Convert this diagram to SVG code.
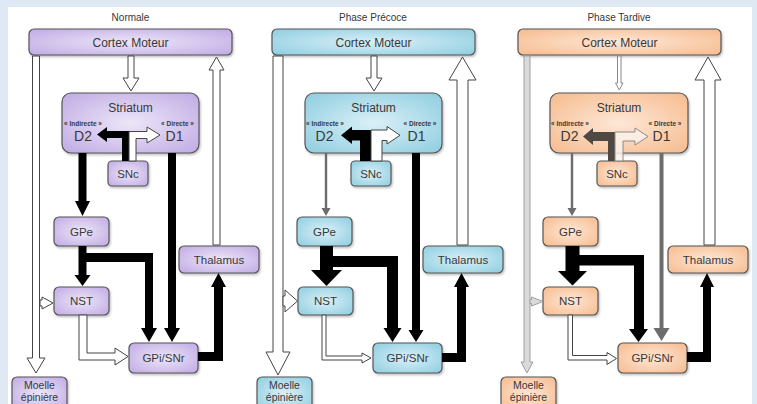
<svg xmlns="http://www.w3.org/2000/svg" width="757" height="404" viewBox="0 0 757 404">
<defs>
<radialGradient id="gp" cx="50%" cy="50%" r="70%"><stop offset="0" stop-color="#ece6f8"/><stop offset="1" stop-color="#c0aae4"/></radialGradient>
<radialGradient id="gb" cx="50%" cy="50%" r="70%"><stop offset="0" stop-color="#daf0f7"/><stop offset="1" stop-color="#8ecde0"/></radialGradient>
<radialGradient id="go" cx="50%" cy="50%" r="70%"><stop offset="0" stop-color="#fee7d6"/><stop offset="1" stop-color="#f6bb8e"/></radialGradient>
<filter id="sh" x="-10%" y="-10%" width="130%" height="150%"><feDropShadow dx="1" dy="1.5" stdDeviation="1" flood-color="#000" flood-opacity="0.28"/></filter>
</defs>
<style>
.box{stroke:#555;stroke-width:1.2;filter:url(#sh)}
.p .box{fill:url(#gp)}
.b .box{fill:url(#gb)}
.o .box{fill:url(#go)}
text{font-family:"Liberation Sans",Arial,sans-serif;fill:#383838;text-anchor:middle}
.ttl{font-size:10px}
.lg{font-size:12px}
.sm{font-size:11.5px}
.d{font-size:14px}
.pw{font-size:6.5px;font-weight:bold}
.mo{font-size:10.5px}
.blk{fill:#000}
.wht{fill:#fff;stroke:#444;stroke-width:1}
.gry{fill:#6c6c6c}
.lgt{fill:#dadada;stroke:#a0a0a0;stroke-width:1}
.tn{fill:#fff;stroke:#888;stroke-width:1}
.dk{fill:#4f4843}
.lt{fill:#fbf1ea;fill-opacity:0.85;stroke:#8a8a8a;stroke-width:1}
</style>
<rect x="0" y="0" width="757" height="404" fill="#dfe9f4"/>
<rect x="8" y="7" width="744" height="397" fill="#fff"/>

<!-- Panel 1: Normale -->
<g id="panel-normale" class="p">
<text class="ttl" x="130.5" y="21">Normale</text>
<g id="cortex-normale"><rect class="box" x="29" y="29" width="203" height="26" rx="5"/><text class="lg" x="130.5" y="47">Cortex Moteur</text></g>
<g id="striatum-normale"><rect class="box" x="62" y="93" width="137" height="60" rx="9"/><text class="lg" x="130.5" y="112">Striatum</text><text class="pw" x="83" y="126">« Indirecte »</text><text class="pw" x="177.5" y="126">« Directe »</text><text class="d" x="83" y="140.5">D2</text><text class="d" x="174.5" y="140.5">D1</text></g>
<g id="snc-normale"><rect class="box" x="108" y="161" width="40" height="25" rx="4"/><text class="sm" x="128" y="177.5">SNc</text></g>
<g id="gpe-normale"><rect class="box" x="54" y="217" width="55" height="29" rx="5"/><text class="sm" x="81.5" y="236">GPe</text></g>
<g id="nst-normale"><rect class="box" x="54" y="287" width="55" height="28" rx="5"/><text class="sm" x="81.5" y="305">NST</text></g>
<g id="gpi-normale"><rect class="box" x="129" y="343" width="69" height="30" rx="5"/><text class="sm" x="163.5" y="362">GPi/SNr</text></g>
<g id="thalamus-normale"><rect class="box" x="179" y="246" width="80" height="27" rx="5"/><text class="sm" x="219" y="263.5">Thalamus</text></g>
<g id="moelle-normale"><rect class="box" x="12" y="377" width="55" height="34" rx="5"/><text class="mo" x="39.5" y="389">Moelle</text><text class="mo" x="39.5" y="401">épinière</text></g>
<g id="connectors-normale">
<path class="wht" d="M128,56 H134 V78 H139 L131,91 L123,78 H128 Z"/>
<path class="wht" d="M32.5,56 H39.5 V358 H45 L36,373 L27,358 H32.5 Z"/>
<path class="wht" d="M213,245 V70 H209 L216.5,57 L224,70 H220 V245 Z"/>
<path class="blk" d="M78.5,153 H86.5 V201 H90 L82.5,216 L75,201 H78.5 Z"/>
<path class="blk" d="M168,153 H176 V328 H180 L172,342 L164,328 H168 Z"/>
<path class="blk" d="M78.5,246 H86.5 V275 H90.5 L82.5,286 L74.5,275 H78.5 Z"/>
<path class="blk" d="M80,253 H153 V328 H157 L149,342 L141,328 H145 V262 H80 Z"/>
<path class="wht" d="M79,315 H87 V353 H115 V348 L128,356.5 L115,365 V360 H79 Z"/>
<path class="wht" d="M40,300 H42 V297 L53,303 L42,309 V306 H40 Z"/>
<path class="blk" d="M198,352 H214 V287 H211 L218.5,273 L226,287 H223 V361 H198 Z"/>
<path class="blk" d="M129,161 V131 H107 V127 L97,134.5 L107,142 V138 H122 V161 Z"/>
<path class="wht" d="M129,161 V131.5 H147 V127 L160,135 L147,143 V138.5 H136 V161 Z"/>
</g>
</g>

<!-- Panel 2: Phase Précoce -->
<g id="panel-precoce" class="b" transform="translate(243,0)">
<text class="ttl" x="130" y="21">Phase Précoce</text>
<g id="cortex-precoce"><rect class="box" x="29" y="29" width="203" height="26" rx="5"/><text class="lg" x="130.5" y="47">Cortex Moteur</text></g>
<g id="striatum-precoce"><rect class="box" x="62" y="93" width="137" height="60" rx="9"/><text class="lg" x="130.5" y="112">Striatum</text><text class="pw" x="82" y="126">« Indirecte »</text><text class="pw" x="177" y="126">« Directe »</text><text class="d" x="81.5" y="140.5">D2</text><text class="d" x="173.5" y="140.5">D1</text></g>
<g id="snc-precoce"><rect class="box" x="108" y="161" width="40" height="25" rx="4"/><text class="sm" x="128" y="177.5">SNc</text></g>
<g id="gpe-precoce"><rect class="box" x="54" y="217" width="55" height="29" rx="5"/><text class="sm" x="81.5" y="236">GPe</text></g>
<g id="nst-precoce"><rect class="box" x="55" y="287" width="55" height="28" rx="5"/><text class="sm" x="82.5" y="305">NST</text></g>
<g id="gpi-precoce"><rect class="box" x="130" y="343" width="69" height="30" rx="5"/><text class="sm" x="164.5" y="362">GPi/SNr</text></g>
<g id="thalamus-precoce"><rect class="box" x="180" y="246" width="80" height="27" rx="5"/><text class="sm" x="220" y="263.5">Thalamus</text></g>
<g id="moelle-precoce"><rect class="box" x="14" y="377" width="55" height="34" rx="5"/><text class="mo" x="41.5" y="389">Moelle</text><text class="mo" x="41.5" y="401">épinière</text></g>
<g id="connectors-precoce">
<path class="wht" d="M128,56 H134 V78 H139 L131,91 L123,78 H128 Z"/>
<path class="wht" d="M30,56 H40 V352 H47 L35,375 L23,352 H30 Z"/>
<path class="wht" d="M214,245 V80 H206 L219.5,57 L233,80 H225 V245 Z"/>
<path class="gry" d="M81.8,153 H84.2 V208 H87.5 L83,216 L78.5,208 H81.8 Z"/>
<path class="blk" d="M169,153 H177 V330 H180.5 L173,342 L165.5,330 H169 Z"/>
<path class="blk" d="M77,246 H90 V270 H99 L83.5,286 L68,270 H77 Z"/>
<path class="blk" d="M80,256 H155 V328 H158.5 L149.5,342 L140.5,328 H144 V267 H80 Z"/>
<path class="wht" d="M79,315 H83 V356 H119 V353 L128,358 L119,363 V360 H79 Z"/>
<path class="wht" d="M40,296 H42 V290 L54.5,301 L42,312 V306 H40 Z"/>
<path class="blk" d="M199,353 H214 V287 H211 L218.5,273 L226,287 H223 V362 H199 Z"/>
<path class="blk" d="M128,161 V130 H109 V126.5 L98,135.3 L109,144 V140.5 H117 V161 Z"/>
<path class="wht" d="M128,161 V130 H144 V126.5 L157,135.3 L144,144 V140.5 H139 V161 Z"/>
</g>
</g>

<!-- Panel 3: Phase Tardive -->
<g id="panel-tardive" class="o" transform="translate(489,0)">
<text class="ttl" x="130" y="21">Phase Tardive</text>
<g id="cortex-tardive"><rect class="box" x="29" y="29" width="203" height="26" rx="5"/><text class="lg" x="130.5" y="47">Cortex Moteur</text></g>
<g id="striatum-tardive"><rect class="box" x="61" y="93" width="138" height="60" rx="9"/><text class="lg" x="130" y="112">Striatum</text><text class="pw" x="81" y="126">« Indirecte »</text><text class="pw" x="176" y="126">« Directe »</text><text class="d" x="80.5" y="140.5">D2</text><text class="d" x="172.5" y="140.5">D1</text></g>
<g id="snc-tardive"><rect class="box" x="108" y="161" width="40" height="25" rx="4"/><text class="sm" x="128" y="177.5">SNc</text></g>
<g id="gpe-tardive"><rect class="box" x="54" y="217" width="55" height="29" rx="5"/><text class="sm" x="81.5" y="236">GPe</text></g>
<g id="nst-tardive"><rect class="box" x="54" y="287" width="55" height="28" rx="5"/><text class="sm" x="81.5" y="305">NST</text></g>
<g id="gpi-tardive"><rect class="box" x="129" y="343" width="69" height="30" rx="5"/><text class="sm" x="163.5" y="362">GPi/SNr</text></g>
<g id="thalamus-tardive"><rect class="box" x="179" y="246" width="80" height="27" rx="5"/><text class="sm" x="219" y="263.5">Thalamus</text></g>
<g id="moelle-tardive"><rect class="box" x="12" y="377" width="55" height="34" rx="5"/><text class="mo" x="39.5" y="389">Moelle</text><text class="mo" x="39.5" y="401">épinière</text></g>
<g id="connectors-tardive">
<path class="tn" d="M128.5,56 H132 V83 H134 L130.3,90 L126.5,83 H128.5 Z"/>
<path class="lgt" d="M35,56 H41 V362 H44 L38,373 L32,362 H35 Z"/>
<path class="wht" d="M215,245 V80 H206 L219,57 L232,80 H226 V245 Z"/>
<path class="gry" d="M81.8,153 H84.2 V208 H87.5 L83,216 L78.5,208 H81.8 Z"/>
<path class="gry" d="M170.5,153 H174.5 V328 H180.5 L172.5,341 L164.5,328 H170.5 Z"/>
<path class="blk" d="M76.5,246 H90.5 V271 H98 L83.5,285.5 L69,271 H76.5 Z"/>
<path class="blk" d="M80,255 H155 V329 H159 L149.5,342 L140,329 H145 V265.5 H80 Z"/>
<path class="wht" d="M79,315 H83.5 V355.5 H118 V352.5 L127.5,358.5 L118,364.5 V360 H79 Z"/>
<path class="lgt" d="M41,299.5 H42.5 V297 L54,301.5 L42.5,306 V303.5 H41 Z"/>
<path class="blk" d="M198,352 H214 V287 H211 L218,273 L225,287 H222 V362 H198 Z"/>
<path class="dk" d="M126,161 V132 H104 V128 L94,136.5 L104,145 V141 H119 V161 Z"/>
<path class="lt" d="M126,161 V132 H146 V128 L159,136.5 L146,145 V141 H134 V161 Z"/>
</g>
</g>
</svg>
